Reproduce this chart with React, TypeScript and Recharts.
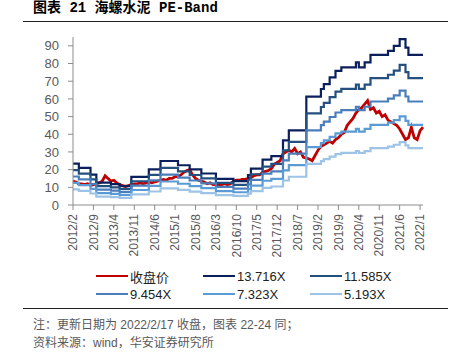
import { Line, LineChart, XAxis, YAxis } from "recharts";

// monthly categories 2012/2 .. 2022/2
const months: string[] = [];
for (let i = 0; i < 121; i++) {
  const t = 2012 * 12 + 1 + i;
  months.push(`${Math.floor(t / 12)}/${(t % 12) + 1}`);
}

const multiples = [13.716, 11.585, 9.454, 7.323, 5.193];
const bandNames = ["13.716X", "11.585X", "9.454X", "7.323X", "5.193X"];
const bandColors = ["#0B1F5C", "#24507F", "#4A7EBB", "#5B9BD5", "#9DC3E6"];

const eps = [
  1.706, 1.706, 1.53, 1.53, 1.53, 1.53, 1.25, 1.25, 0.919, 0.919,
  0.919, 0.919, 0.919, 0.86, 0.86, 0.86, 0.78, 0.78, 0.78, 0.78,
  1.159, 1.159, 1.159, 1.159, 1.159, 1.159, 1.47, 1.47, 1.47, 1.47,
  1.815, 1.815, 1.815, 1.815, 1.815, 1.815, 1.64, 1.64, 1.64, 1.64,
  1.465, 1.465, 1.465, 1.465, 1.298, 1.298, 1.298, 1.298, 1.298, 1.079,
  1.079, 1.079, 1.079, 1.079, 1.079, 0.984, 0.984, 0.984, 0.984, 0.984,
  1.232, 1.502, 1.502, 1.502, 1.502, 1.874, 1.874, 1.874, 2.012, 2.012,
  2.012, 2.012, 2.668, 2.668, 3.077, 3.077, 3.077, 3.077, 3.077, 3.077,
  4.469, 4.469, 4.469, 4.469, 4.469, 4.783, 4.987, 4.987, 5.264, 5.264,
  5.534, 5.534, 5.672, 5.672, 5.672, 5.672, 5.672, 5.876, 5.672, 5.672,
  5.876, 5.876, 6.19, 6.19, 6.19, 6.19, 6.19, 6.19, 6.357, 6.357,
  6.562, 6.562, 6.839, 6.839, 6.489, 6.19, 6.19, 6.19, 6.19, 6.19,
  6.19,
];

const close = [
  13.5, 13, 12, 12, 11.5, 12, 11, 11.5, 12, 12.5,
  13.5, 16.5, 15, 13.5, 14, 12.5, 11.5, 11, 10.5, 11,
  11.5, 12, 12, 12.5, 12, 12.5, 13, 12.5, 13, 13.5,
  14, 14.5, 14, 15, 15, 16, 16, 17, 18.5, 19.5,
  20, 17, 15, 14, 13.5, 13, 12, 12.5, 11.5, 11.5,
  11, 11.5, 12, 11.5, 12, 13.5, 14, 14, 14.5, 14.5,
  15, 15.5, 16.5, 17, 17, 18.5, 19, 19.5, 20.5, 23,
  24, 25, 29, 30, 31, 30, 32, 29, 30, 27,
  26.5, 26, 25, 28, 31, 33, 34, 35, 36, 35,
  37, 38, 40, 41, 45, 47, 49, 52, 54, 55,
  57, 59, 54, 55, 52, 53, 50, 51, 48, 47,
  46, 45, 43, 40, 37, 38, 44, 38, 37, 42,
  44,
];

const yTicks = [0, 10, 20, 30, 40, 50, 60, 70, 80, 90];

const data = months.map((date, i) => {
  const row: Record<string, number | string> = { date, close: close[i] };
  multiples.forEach((m, k) => {
    row[`b${k}`] = +(eps[i] * m).toFixed(2);
  });
  return row;
});

const sans = '"Liberation Sans", Arial, sans-serif';
const gray = "#595959";

function XTick({ x, y, payload }: any) {
  return (
    <text
      transform={`translate(${x},${y + 2}) rotate(-90)`}
      textAnchor="end"
      dy="0.35em"
      fontSize={12}
      fill={gray}
      fontFamily={sans}
    >
      {payload.value}
    </text>
  );
}

const legendItems = [
  { name: "收盘价", color: "#C00000" },
  ...bandNames.map((n, k) => ({ name: n, color: bandColors[k] })),
];

export default function App() {
  return (
    <div style={{ position: "relative", width: 449, height: 353, background: "#fff", fontFamily: sans }}>
      <style>{"body{margin:0}"}</style>
      <div
        style={{
          position: "absolute",
          left: 33,
          top: 0,
          fontSize: 14,
          lineHeight: "17px",
          fontWeight: "bold",
          fontFamily: '"Liberation Mono", "Noto Sans CJK SC", monospace',
          whiteSpace: "nowrap",
        }}
      >
        图表 21 海螺水泥 PE-Band
      </div>
      <div style={{ position: "absolute", left: 23, top: 21, width: 425, height: 1, background: "#222" }} />

      <div style={{ position: "absolute", left: 0, top: 0 }}>
        <LineChart width={449} height={272} data={data} margin={{ top: 37, right: 26, left: 0, bottom: 0 }}>
          <XAxis
            dataKey="date"
            interval={6}
            height={67}
            tick={<XTick />}
            tickSize={5}
            stroke="#8c8c8c"
            tickLine={{ stroke: "#8c8c8c" }}
          />
          <YAxis
            domain={[0, 95]}
            ticks={yTicks}
            interval={0}
            width={73}
            tickSize={5}
            tickMargin={9}
            stroke="#8c8c8c"
            tick={{ fontSize: 13, fill: gray, fontFamily: sans }}
            tickLine={{ stroke: "#8c8c8c" }}
          />
          <Line
            dataKey="close"
            type="linear"
            stroke="#C00000"
            strokeWidth={2.8}
            dot={false}
            isAnimationActive={false}
          />
          {multiples.map((_, k) => (
            <Line
              key={k}
              dataKey={`b${k}`}
              type="stepAfter"
              stroke={bandColors[k]}
              strokeWidth={2.2}
              dot={false}
              isAnimationActive={false}
            />
          ))}
        </LineChart>
      </div>

      {legendItems.map((it, i) => {
        const col = i % 3;
        const row = Math.floor(i / 3);
        const left = [96, 203, 310][col];
        const top = [276, 294][row];
        return (
          <div
            key={it.name}
            style={{ position: "absolute", left, top: top - 9, height: 18, display: "flex", alignItems: "center" }}
          >
            <div style={{ width: 32, height: 2.5, background: it.color }} />
            <span
              style={{
                marginLeft: 2,
                fontSize: 13,
                color: "#222",
                fontFamily: it.name === "收盘价" ? '"Noto Sans CJK SC", sans-serif' : sans,
              }}
            >
              {it.name}
            </span>
          </div>
        );
      })}

      <div style={{ position: "absolute", left: 23, top: 308, width: 425, height: 1, background: "#222" }} />
      <div
        style={{
          position: "absolute",
          left: 33,
          top: 316,
          fontSize: 12,
          lineHeight: "18px",
          color: gray,
          fontFamily: '"Liberation Sans", "Noto Sans CJK SC", sans-serif',
          whiteSpace: "nowrap",
        }}
      >
        <div>注：更新日期为 2022/2/17 收盘，图表 22-24 同；</div>
        <div>资料来源：wind，华安证券研究所</div>
      </div>
    </div>
  );
}
